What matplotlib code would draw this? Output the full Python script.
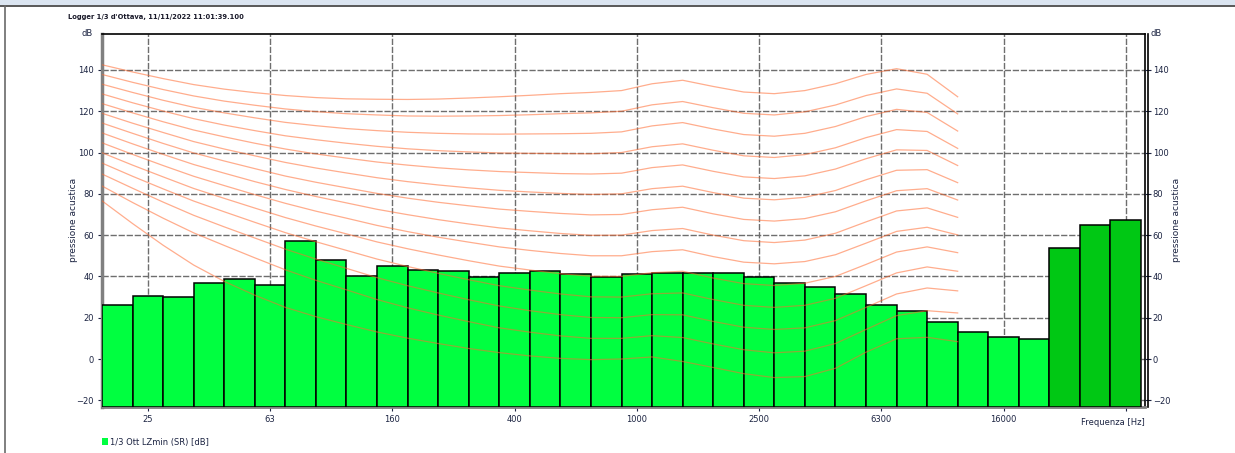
import matplotlib
matplotlib.use("Agg")
import matplotlib.pyplot as plt
import numpy as np
from matplotlib.patches import Patch

# 1/3 octave bands (20 Hz .. 20 kHz) followed by the three overall bars
band_labels = ['20', '25', '31.5', '40', '50', '63', '80', '100', '125', '160', '200', '250',
               '315', '400', '500', '630', '800', '1000', '1250', '1600', '2000', '2500', '3150',
               '4000', '5000', '6300', '8000', '10000', '12500', '16000', '20000', 'A', 'C', 'Z']
lzmin = [26.1, 30.4, 30.2, 36.8, 38.7, 35.7, 57.2, 48.1, 40.4, 45.2, 43.1, 42.5,
         39.8, 41.5, 42.6, 41.0, 39.9, 41.0, 41.5, 41.5, 41.5, 39.6, 37.0,
         34.7, 31.7, 26.3, 23.2, 17.9, 13.2, 10.6, 9.5, 54.0, 65.1, 67.2]
n_overall = 3

tick_labels = ['25', '63', '160', '400', '1000', '2500', '6300', '16000', '']
tick_pos = [1, 5, 9, 13, 17, 21, 25, 29, 33]

# equal loudness contours, 0..130 phon, 20 Hz .. 12.5 kHz
phon_0 = [76.6, 65.6, 55.1, 45.5, 37.6, 30.9, 25.0, 20.5, 16.7, 13.1, 10.1, 7.5, 5.1, 3.1, 1.5, 0.3, -0.3, 0.0, 1.0, -1.2, -4.1, -7.1, -9.0, -8.5, -4.5, 3.3, 9.8, 10.5, 8.4]
phon_10 = [83.8, 75.8, 68.2, 61.1, 55.0, 49.0, 43.2, 38.1, 33.5, 28.8, 24.8, 21.3, 18.1, 15.1, 13.0, 11.2, 10.0, 10.0, 11.3, 10.4, 7.3, 4.5, 3.0, 3.8, 7.5, 14.3, 21.0, 23.4, 22.3]
phon_20 = [89.6, 82.7, 76.0, 69.6, 64.0, 58.6, 53.2, 48.4, 43.9, 39.4, 35.5, 32.0, 28.7, 25.7, 23.4, 21.5, 20.1, 20.0, 21.5, 21.4, 18.2, 15.4, 14.3, 15.1, 18.6, 25.0, 31.5, 34.4, 33.0]
phon_30 = [94.9, 88.5, 82.4, 76.5, 71.3, 66.2, 61.2, 56.8, 52.6, 48.4, 44.8, 41.5, 38.4, 35.5, 33.4, 31.5, 30.1, 30.0, 31.6, 32.0, 28.8, 26.0, 25.0, 26.0, 29.4, 35.5, 41.7, 44.6, 42.5]
phon_40 = [99.9, 93.9, 88.2, 82.6, 77.8, 73.1, 68.5, 64.4, 60.6, 56.7, 53.4, 50.4, 47.6, 45.0, 43.1, 41.3, 40.1, 40.0, 41.8, 42.5, 39.2, 36.5, 35.6, 36.7, 40.0, 45.8, 51.8, 54.3, 51.5]
phon_50 = [104.7, 99.1, 93.7, 88.5, 84.0, 79.6, 75.4, 71.6, 68.2, 64.7, 61.7, 59.0, 56.6, 54.3, 52.6, 51.1, 50.0, 50.0, 52.0, 52.9, 49.6, 46.9, 46.1, 47.2, 50.5, 56.1, 61.8, 63.8, 60.1]
phon_60 = [109.5, 104.2, 99.1, 94.2, 90.0, 85.9, 82.1, 78.7, 75.6, 72.5, 69.9, 67.5, 65.4, 63.5, 62.1, 60.8, 59.9, 60.0, 62.2, 63.2, 60.0, 57.3, 56.4, 57.6, 60.9, 66.4, 71.7, 73.2, 68.6]
phon_70 = [114.3, 109.3, 104.4, 99.8, 95.9, 92.2, 88.6, 85.6, 82.9, 80.2, 77.9, 75.9, 74.2, 72.6, 71.5, 70.5, 69.8, 70.0, 72.3, 73.5, 70.3, 67.6, 66.8, 68.0, 71.3, 76.6, 81.5, 82.5, 77.0]
phon_80 = [119.0, 114.2, 109.7, 105.3, 101.7, 98.4, 95.2, 92.5, 90.1, 87.8, 85.9, 84.3, 82.9, 81.7, 80.9, 80.2, 79.7, 80.0, 82.5, 83.7, 80.6, 77.9, 77.1, 78.3, 81.6, 86.8, 91.4, 91.7, 85.4]
phon_90 = [123.7, 119.2, 114.9, 110.9, 107.6, 104.5, 101.7, 99.3, 97.3, 95.4, 93.9, 92.6, 91.6, 90.8, 90.3, 89.8, 89.6, 90.0, 92.7, 94.0, 90.9, 88.2, 87.4, 88.7, 92.0, 97.0, 101.3, 101.0, 93.7]
phon_100 = [128.4, 124.1, 120.1, 116.4, 113.3, 110.6, 108.1, 106.2, 104.5, 103.0, 101.8, 100.9, 100.3, 99.8, 99.6, 99.5, 99.4, 100.0, 102.8, 104.2, 101.1, 98.4, 97.6, 99.0, 102.3, 107.2, 111.1, 110.2, 102.0]
phon_110 = [133.1, 129.1, 125.3, 121.9, 119.2, 116.8, 114.6, 113.0, 111.6, 110.6, 109.8, 109.3, 109.0, 108.9, 109.0, 109.1, 109.3, 110.0, 112.9, 114.5, 111.4, 108.7, 107.9, 109.3, 112.6, 117.4, 120.9, 119.4, 110.4]
phon_120 = [137.8, 134.0, 130.5, 127.4, 124.9, 122.9, 121.1, 119.8, 118.8, 118.2, 117.7, 117.6, 117.7, 117.9, 118.3, 118.8, 119.2, 120.0, 123.1, 124.7, 121.7, 119.0, 118.2, 119.7, 123.0, 127.6, 130.8, 128.7, 118.7]
phon_130 = [142.5, 139.0, 135.8, 132.9, 130.7, 129.0, 127.6, 126.6, 126.0, 125.8, 125.7, 125.9, 126.4, 127.0, 127.7, 128.5, 129.1, 130.0, 133.3, 135.0, 132.0, 129.3, 128.5, 130.0, 133.3, 137.8, 140.6, 137.9, 127.0]
contours = [phon_0, phon_10, phon_20, phon_30, phon_40, phon_50, phon_60,
            phon_70, phon_80, phon_90, phon_100, phon_110, phon_120, phon_130]

Y0, Y1 = -23.0, 157.4
text_col = '#1c2442'
W, H = 1235, 453

fig = plt.figure(figsize=(W / 100, H / 100), dpi=100)
fig.patch.set_facecolor('white')

# window chrome: top band and left border
fig.patches.append(plt.Rectangle((0, 1 - 5 / H), 1, 5 / H, transform=fig.transFigure,
                                 facecolor='#dbe5f1', edgecolor='none'))
fig.lines.append(plt.Line2D([0, 1], [1 - 6 / H, 1 - 6 / H], transform=fig.transFigure, color='#3c3c3c', lw=1.2))
fig.lines.append(plt.Line2D([5 / W, 5 / W], [0, 1 - 6 / H], transform=fig.transFigure, color='#6a6a6a', lw=1.2))

ax = fig.add_axes([102 / W, 1 - 406.5 / H, (1145 - 102) / W, (406.5 - 34) / H])

x = np.arange(len(lzmin))
colors = ['#00ff40'] * (len(lzmin) - n_overall) + ['#00c814'] * n_overall
ax.bar(x, np.array(lzmin) - Y0, bottom=Y0, width=1.0, color=colors,
       edgecolor='black', linewidth=1.1, zorder=3)

xc = np.arange(len(phon_0)) - 0.5
for c in contours:
    ax.plot(xc, c, color='#ff6a30', lw=0.9, alpha=0.55, zorder=4)

ax.set_xlim(-0.5, 33.63)
ax.set_ylim(Y0, Y1)
ax.set_yticks(range(-20, 141, 20))
ax.set_xticks(tick_pos)
ax.set_xticklabels(tick_labels)
ax.grid(True, color='#6e6e6e', lw=1.0, linestyle=(0, (4.5, 1.3)), zorder=1)
ax.set_axisbelow(True)

ax.tick_params(axis='both', labelsize=6, colors=text_col, length=3, width=0.8)
ax.tick_params(axis='x', pad=3)
ax.tick_params(axis='y', pad=3)

for s in ['top', 'right']:
    ax.spines[s].set_color('black')
    ax.spines[s].set_linewidth(1.2)
ax.spines['left'].set_color('#808080')
ax.spines['left'].set_linewidth(2.5)
ax.spines['bottom'].set_color('#808080')
ax.spines['bottom'].set_linewidth(2.0)

ax.set_ylabel('pressione acustica', fontsize=6.5, color=text_col, labelpad=-1)

ax2 = ax.twinx()
ax2.set_ylim(Y0, Y1)
ax2.set_yticks(range(-20, 141, 20))
ax2.spines['right'].set_position(('outward', 2))
ax2.spines['right'].set_linewidth(1.2)
for s in ['top', 'left', 'bottom']:
    ax2.spines[s].set_visible(False)
ax2.tick_params(axis='y', direction='inout', length=5, width=0.8, labelsize=6,
                colors=text_col, pad=1)
ax2.set_ylabel('pressione acustica', fontsize=6.5, color=text_col, labelpad=1)

ax.text(-0.009, 1.0, 'dB', transform=ax.transAxes, ha='right', va='center',
        fontsize=6, color=text_col)
ax.text(1.005, 1.0, 'dB', transform=ax.transAxes, ha='left', va='center',
        fontsize=6, color=text_col)
ax.text(0.9995, -0.03, 'Frequenza [Hz]', transform=ax.transAxes, ha='right', va='top',
        fontsize=6, color=text_col)

fig.text(68 / W, 1 - 17 / H, "Logger 1/3 d'Ottava, 11/11/2022 11:01:39.100",
         fontsize=4.9, fontweight='bold', color='#1a1a2a', ha='left', va='center')

leg = fig.legend(handles=[Patch(facecolor='#00ff40', edgecolor='none')],
                 labels=['1/3 Ott LZmin (SR) [dB]'], loc='center left',
                 bbox_to_anchor=(98 / W, 1 - 442 / H), frameon=False, fontsize=6,
                 handlelength=0.75, handleheight=0.9, handletextpad=0.15, borderpad=0)
for t in leg.get_texts():
    t.set_color(text_col)

fig.savefig('out.png', dpi=100)
